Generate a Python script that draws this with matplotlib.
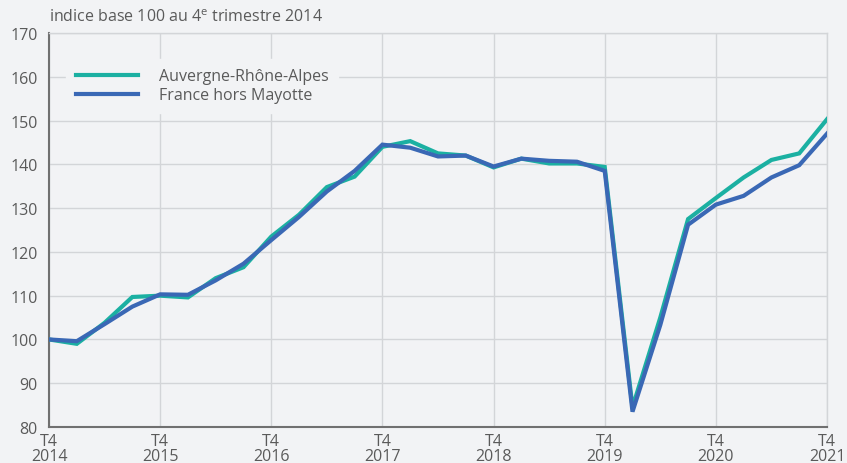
import matplotlib

matplotlib.use('Agg')
import matplotlib.pyplot as plt

plt.rcParams['font.family'] = ['Open Sans', 'DejaVu Sans']
plt.rcParams['mathtext.fontset'] = 'custom'
plt.rcParams['mathtext.rm'] = 'Open Sans'
plt.rcParams['font.size'] = 11.5

# quarterly index, T4 2014 = 100
quarters = list(range(29))
ara = [100.0, 99.0, 103.8, 109.7, 110.0, 109.6, 114.0, 116.5, 123.5, 128.5,
       134.8, 137.2, 144.0, 145.3, 142.5, 142.0, 139.3, 141.3, 140.2, 140.2,
       139.4, 84.5, 105.0, 127.5, 132.3, 137.0, 141.0, 142.5, 150.3]
france = [100.0, 99.6, 103.5, 107.5, 110.3, 110.2, 113.5, 117.3, 122.7, 128.0,
          133.8, 138.5, 144.5, 143.8, 141.8, 142.0, 139.5, 141.3, 140.8, 140.6,
          138.5, 83.5, 103.3, 126.2, 130.8, 132.8, 137.0, 139.8, 147.0]
tick_pos = [0, 4, 8, 12, 16, 20, 24, 28]
tick_labels = ['T4\n2014', 'T4\n2015', 'T4\n2016', 'T4\n2017',
               'T4\n2018', 'T4\n2019', 'T4\n2020', 'T4\n2021']
yticks = list(range(80, 171, 10))

bg = '#f2f3f5'
grid_col = '#d3d5d8'
text_col = '#5a5a5a'

fig = plt.figure(figsize=(8.47, 4.64), dpi=100)
fig.patch.set_facecolor(bg)
ax = fig.add_axes([49 / 847, 1 - 428 / 464, 778 / 847, 394 / 464])
ax.set_facecolor(bg)

ax.plot(quarters, ara, color='#1bb0a2', lw=3, label='Auvergne-Rhône-Alpes',
        solid_joinstyle='miter', zorder=3)
ax.plot(quarters, france, color='#3a68b5', lw=3, label='France hors Mayotte',
        solid_joinstyle='miter', zorder=4)

ax.set_xlim(0, 28)
ax.set_ylim(80, 170)
ax.set_xticks(tick_pos)
ax.set_xticklabels(tick_labels, color=text_col, linespacing=0.88)
ax.set_yticks(yticks)
ax.set_yticklabels([str(v) for v in yticks], color=text_col)
ax.tick_params(axis='y', length=0, pad=8)
ax.tick_params(axis='x', length=0, pad=4.5)
ax.grid(True, color=grid_col, lw=1)
ax.set_axisbelow(True)

for s in ['top', 'right']:
    ax.spines[s].set_color(grid_col)
    ax.spines[s].set_linewidth(1)
for s in ['left', 'bottom']:
    ax.spines[s].set_color('#707070')
    ax.spines[s].set_linewidth(1.5)

leg = ax.legend(loc='upper left', bbox_to_anchor=(0.012, 0.955), frameon=True,
                handlelength=3.9, handletextpad=1.3, labelspacing=0.2,
                borderpad=0.6, fontsize=11.5)
leg.get_frame().set_facecolor(bg)
leg.get_frame().set_edgecolor(bg)
leg.get_frame().set_alpha(1)
for t in leg.get_texts():
    t.set_color(text_col)

fig.text(49 / 847, 1 - 18 / 464, r'indice base 100 au 4$^{\rm e}$ trimestre 2014',
         color=text_col, fontsize=11.5, va='center', ha='left')

plt.savefig('out.png', dpi=100, facecolor=bg)
